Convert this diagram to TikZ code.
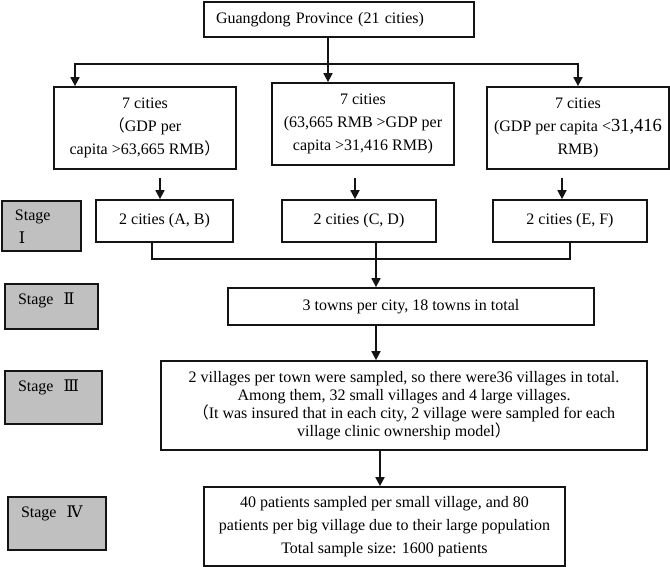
\documentclass[tikz,border=0pt]{standalone}
\usepackage{fontspec}
\setmainfont{Liberation Serif}
\newfontfamily\cjk{Noto Sans CJK SC}
\newfontfamily\romfont{DejaVu Serif}
\usetikzlibrary{arrows.meta}
\definecolor{stagegray}{RGB}{192,192,192}
\definecolor{edge}{RGB}{20,20,20}
\newcommand{\fw}[1]{{\cjk #1}}
\newcommand{\rom}[1]{{\romfont #1}}

\begin{document}
\begin{tikzpicture}[
  x=1pt, y=-1pt,
  font=\fontsize{16}{23}\selectfont,
  box/.style={draw=edge, line width=1.7pt, fill=white, align=center, inner sep=0pt},
  stagebox/.style={draw=edge, line width=2pt, fill=stagegray, anchor=north west,
    align=left, inner xsep=13pt, inner ysep=9pt, text height=11pt},
  arr/.style={-{Triangle[width=9pt,length=9pt]}, line width=1.7pt, draw=edge},
  link/.style={line width=1.7pt, draw=edge},
]
  \useasboundingbox (0,0) rectangle (670,567);

  % Province and the three GDP groups
  \node[box, minimum width=270pt, minimum height=35pt, text width=246pt, align=left] (prov) at (339,19.5) {Guangdong Province (21 cities)};
  \node[box, minimum width=182pt, minimum height=82pt] (gdp1) at (145,128)
    {7 cities\\\fw{（}GDP per\\capita >63,665 RMB\fw{）}};
  \node[box, minimum width=182pt, minimum height=82pt] (gdp2) at (363,124)
    {7 cities\\(63,665 RMB >GDP per\\capita >31,416 RMB)};
  \node[box, minimum width=182pt, minimum height=82pt] (gdp3) at (578,128)
    {7 cities\\(GDP per capita <{\fontsize{18.5}{23}\selectfont 31,416}\\RMB)};

  \coordinate (split) at (328,64);
  \draw[link] (prov.south -| split) -- (split);
  \draw[arr] (split) -| ([xshift=-70pt]gdp1.north);
  \draw[arr] (split) -| (gdp3.north);
  \draw[arr] (split) -- (split |- gdp2.north);

  % Stage I: two cities per group
  \node[box, minimum width=137pt, minimum height=42pt] (city1) at (164.5,221) {2 cities (A, B)};
  \node[box, minimum width=154pt, minimum height=42pt] (city2) at (359,221) {2 cities (C, D)};
  \node[box, minimum width=154pt, minimum height=42pt] (city3) at (570,221) {2 cities (E, F)};
  \draw[arr, shorten <=8pt] ([xshift=-4.5pt]city1.north |- gdp1.south) -- ([xshift=-4.5pt]city1.north);
  \draw[arr, shorten <=12pt] ([xshift=-4pt]city2.north |- gdp2.south) -- ([xshift=-4pt]city2.north);
  \draw[arr, shorten <=8pt] ([xshift=-8pt]city3.north |- gdp3.south) -- ([xshift=-8pt]city3.north);

  \coordinate (merge) at (376,259);
  \draw[link] ([xshift=-12.5pt]city1.south) -- ([xshift=-12.5pt]city1.south |- merge) -| (city3.south);

  % Stage II to IV
  \node[box, minimum width=366pt, minimum height=37pt] (towns) at (411,306.5) {3 towns per city, 18 towns in total};
  \node[box, minimum width=486pt, minimum height=89pt, font=\fontsize{16}{18}\selectfont] (villages) at (404,405.5)
    {2 villages per town were sampled, so there were36 villages in total.\\
     Among them, 32 small villages and 4 large villages.\\
     \fw{（}It was insured that in each city, 2 village were sampled for each\\
     village clinic ownership model\fw{）}};
  \node[box, minimum width=361pt, minimum height=79pt] (patients) at (384.5,526.5)
    {40 patients sampled per small village, and 80\\
     patients per big village due to their large population\\
     Total sample size: 1600 patients};
  \draw[arr] (city2.south -| merge) -- (merge |- towns.north);
  \draw[arr] ([xshift=-35pt]towns.south) -- ([xshift=-35pt]towns.south |- villages.north);
  \draw[arr] ([xshift=-24pt]villages.south) -- ([xshift=-24pt]villages.south |- patients.north);

  % Stage labels
  \node[stagebox, text width=53pt, text depth=21pt] (stage1) at (1,200) {Stage\\\hspace*{4pt}\rom{Ⅰ}};
  \node[stagebox, text width=67pt, text depth=16pt] (stage2) at (4,283) {Stage\hspace{10pt}\rom{Ⅱ}};
  \node[stagebox, text width=71pt, text depth=24pt] (stage3) at (4,370) {Stage\hspace{10pt}\rom{Ⅲ}};
  \node[stagebox, text width=72pt, text depth=24pt] (stage4) at (7,496) {Stage\hspace{10pt}\rom{Ⅳ}};
\end{tikzpicture}
\end{document}
